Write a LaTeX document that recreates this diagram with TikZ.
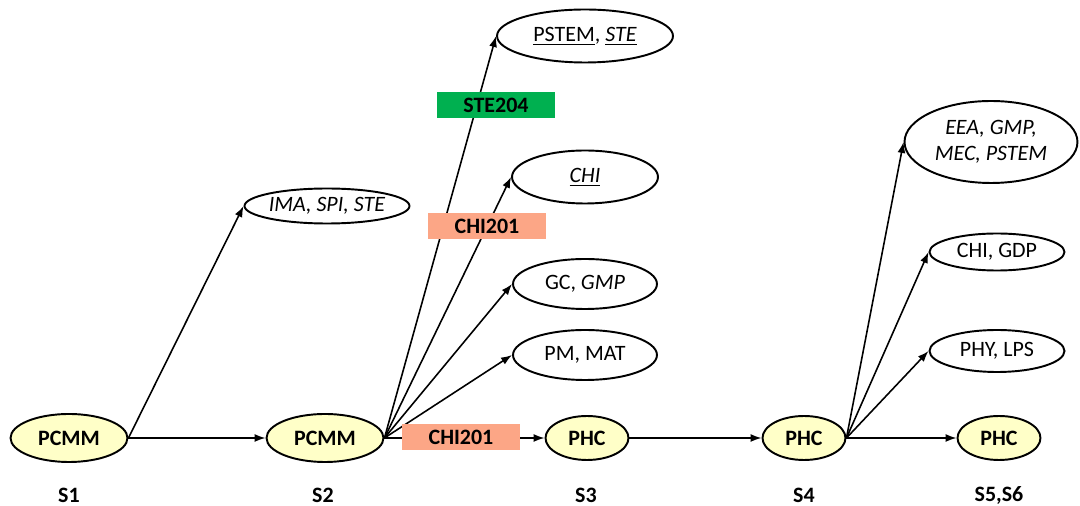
\documentclass[tikz,border=0pt]{standalone}
\usepackage{fontspec}
\setmainfont{Carlito}
\usetikzlibrary{arrows.meta,shapes.geometric}

\definecolor{semYellow}{RGB}{255,255,200}
\definecolor{ueGreen}{RGB}{0,176,80}
\definecolor{ueSalmon}{RGB}{252,166,134}

\begin{document}
\begin{tikzpicture}[x=0.02cm, y=-0.02cm,
    every node/.style={font=\fontsize{12.5}{14.5}\selectfont},
    track/.style={shape=ellipse, draw=black, line width=1.1pt, fill=semYellow, inner sep=0pt, font=\fontsize{12.5}{14.5}\selectfont\bfseries},
    major/.style={shape=ellipse, draw=black, line width=1.1pt, fill=white, inner sep=0pt, align=center},
    ue/.style={inner sep=0pt, minimum width=2.38cm, minimum height=0.52cm, font=\fontsize{12.5}{14.5}\selectfont\bfseries},
    sem/.style={font=\fontsize{12.5}{14.5}\selectfont\bfseries},
    arr/.style={-{Latex[length=2.2mm,width=1.6mm]}, line width=0.9pt}]
    \useasboundingbox (0,0) rectangle (1080,506);

    % main track
    \node[track, minimum width=2.34cm, minimum height=0.96cm] (A) at (69,438) {PCMM};
    \node[track, minimum width=2.34cm, minimum height=0.96cm] (B) at (325,438) {PCMM};
    \node[track, minimum width=1.66cm, minimum height=0.88cm] (C) at (587,438) {PHC};
    \node[track, minimum width=1.66cm, minimum height=0.88cm] (D) at (804,438) {PHC};
    \node[track, minimum width=1.66cm, minimum height=0.88cm] (E) at (999,438) {PHC};

    % semesters
    \node[sem] (s1) at (69,495) {S1};
    \node[sem] (s2) at (323,495) {S2};
    \node[sem] (s3) at (586,495) {S3};
    \node[sem] (s4) at (804,495) {S4};
    \node[sem] (s56) at (999,495) {S5,S6};

    % exits
    \node[major, minimum width=3.3cm, minimum height=0.7cm] (A1) at (327,206) {\textit{IMA, SPI, STE}};
    \node[major, minimum width=3.52cm, minimum height=1.06cm] (B1) at (585,36) {\underline{PSTEM}, \underline{\textit{STE}}};
    \node[major, minimum width=2.92cm, minimum height=1.06cm] (B2) at (585,177) {\underline{\textit{CHI}}};
    \node[major, minimum width=2.88cm, minimum height=1.0cm] (B3) at (585,284) {GC, \textit{GMP}};
    \node[major, minimum width=2.88cm, minimum height=1.0cm] (B4) at (585,355) {PM, MAT};
    \node[major, minimum width=3.46cm, minimum height=1.64cm] (D1) at (991,142) {\textit{EEA, GMP,}\\\textit{MEC, PSTEM}};
    \node[major, minimum width=2.7cm, minimum height=0.74cm] (D2) at (997,252) {CHI, GDP};
    \node[major, minimum width=2.7cm, minimum height=0.84cm] (D3) at (997,351) {PHY, LPS};

    \path [arr](A.east) edge (B.west);
    \path [arr](A.east) edge (A1.west);
    \path [arr](B.east) edge (B1.west);
    \path [arr](B.east) edge (B2.west);
    \path [arr](B.east) edge (B3.west);
    \path [arr](B.east) edge (B4.west);
    \path [arr](B.east) edge (C.west);
    \path [arr](C.east) edge (D.west);
    \path [arr](D.east) edge (D1.west);
    \path [arr](D.east) edge (D2.west);
    \path [arr](D.east) edge (D3.west);
    \path [arr](D.east) edge (E.west);

    % course boxes
    \node[ue, fill=ueGreen] (u1) at (496,105) {STE204};
    \node[ue, fill=ueSalmon] (u2) at (487,226) {CHI201};
    \node[ue, fill=ueSalmon] (u3) at (461,437) {CHI201};

\end{tikzpicture}
\end{document}
